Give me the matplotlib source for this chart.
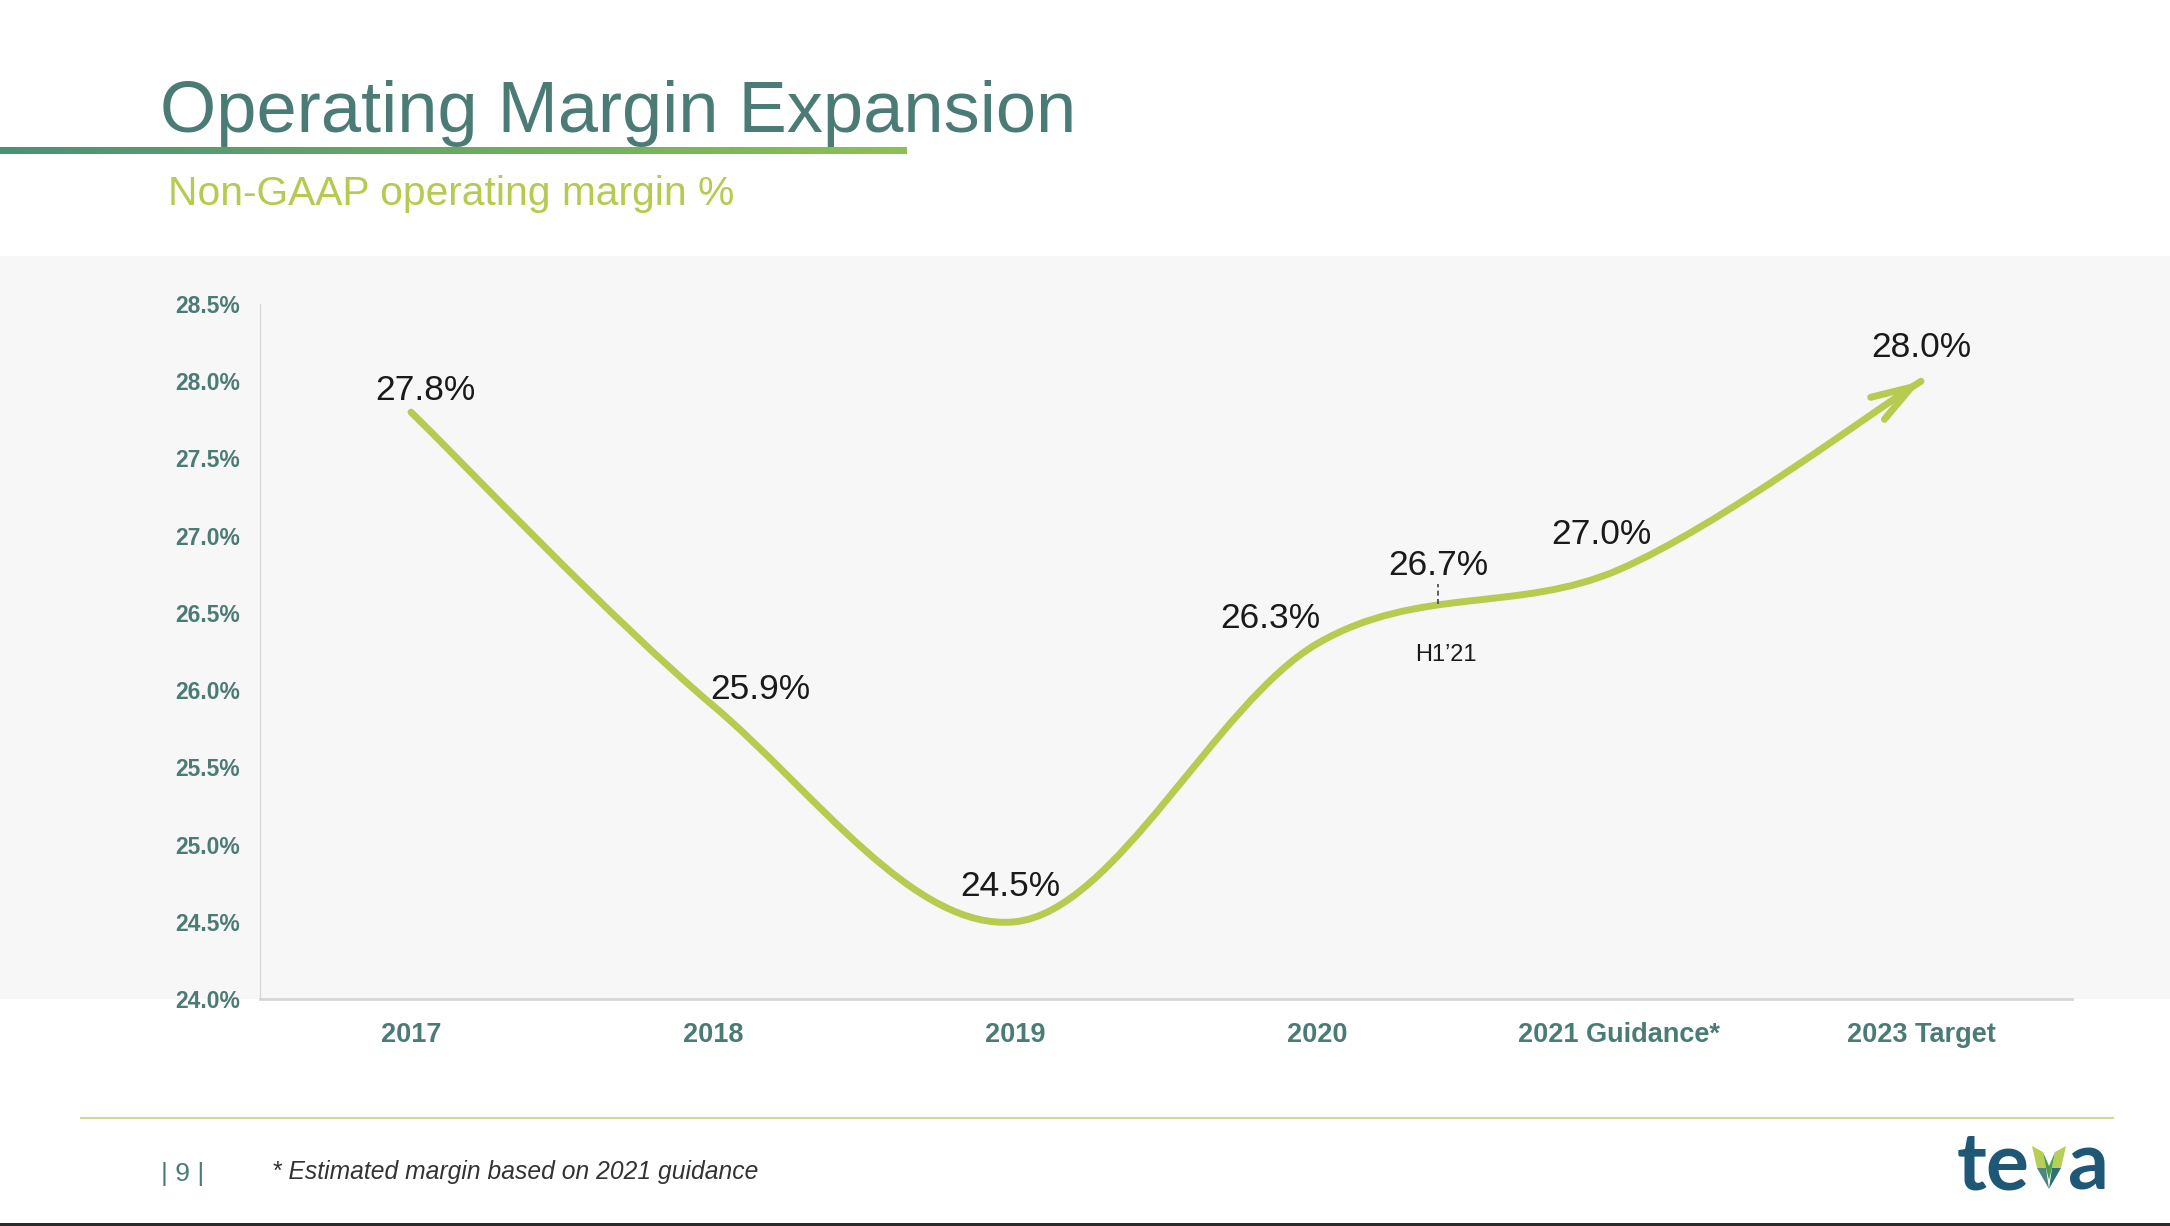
import numpy as np
import matplotlib
matplotlib.use("Agg")
import matplotlib.pyplot as plt
from matplotlib.path import Path
from matplotlib.patches import PathPatch, Rectangle, Polygon
from matplotlib.lines import Line2D
from matplotlib.colors import LinearSegmentedColormap

categories = ['2017', '2018', '2019', '2020', '2021 Guidance*', '2023 Target']
margin_labels = [27.8, 25.9, 24.5, 26.3, 27.0, 28.0]
# la curva dibujada pasa un poco por debajo de la etiqueta 27.0%
line_values = [27.8, 25.9, 24.5, 26.3, 26.78, 28.0]
y_ticks = [24.0, 24.5, 25.0, 25.5, 26.0, 26.5, 27.0, 27.5, 28.0, 28.5]

h1_x = 3.4
h1_label = 26.7
h1_curve = 26.56
h1_tick_top = 26.69

# posiciones de las etiquetas (pixeles respecto al punto)
label_offsets = [(14, 12), (47, 7), (-5, 26), (-47, 16), (-18, -8), (0, 24)]

W, H = 2170, 1226
teal = '#4b7b75'
green = '#b7cb50'

def fx(x):
    return x / W

def fy(y):
    return 1 - y / H

plt.rcParams['font.family'] = ['Liberation Sans', 'DejaVu Sans']

fig = plt.figure(figsize=(W / 100, H / 100), dpi=100, facecolor='white')

# panel gris
fig.patches.append(Rectangle((0, fy(999)), 1, (999 - 256) / H, transform=fig.transFigure,
                             facecolor='#f7f7f7', edgecolor='none', zorder=-5))

ax = fig.add_axes([fx(260), fy(999), (2072 - 260) / W, (999 - 304) / H])
ax.set_facecolor('none')
ax.set_xlim(-0.5, 5.5)
ax.set_ylim(24.0, 28.5)

ax.set_yticks(y_ticks)
ax.set_yticklabels([f'{v:.1f}%' for v in y_ticks])
ax.set_xticks(range(len(categories)))
ax.set_xticklabels(categories)
ax.tick_params(axis='y', length=0, pad=14.4, labelsize=16.5, labelcolor=teal)
ax.tick_params(axis='x', length=0, pad=16.5, labelsize=19.5, labelcolor=teal)
for lab in ax.get_xticklabels() + ax.get_yticklabels():
    lab.set_fontweight('bold')

for s in ['top', 'right']:
    ax.spines[s].set_visible(False)
ax.spines['left'].set_color('#dadada')
ax.spines['left'].set_linewidth(1.0)
ax.spines['bottom'].set_color('#d6d6d6')
ax.spines['bottom'].set_linewidth(2.0)

# linea suavizada (bezier tipo "smoothed line")
xs = np.arange(len(line_values))
pts = np.column_stack([xs, line_values]).astype(float)
verts = [pts[0]]
codes = [Path.MOVETO]
for i in range(len(pts) - 1):
    p0 = pts[max(i - 1, 0)]
    p1 = pts[i]
    p2 = pts[i + 1]
    p3 = pts[min(i + 2, len(pts) - 1)]
    verts += [p1 + (p2 - p0) / 6, p2 - (p3 - p1) / 6, p2]
    codes += [Path.CURVE4] * 3
curve = PathPatch(Path(verts, codes), facecolor='none', edgecolor=green, lw=5,
                  capstyle='round', joinstyle='round', zorder=3)
ax.add_patch(curve)

# punta de flecha
end = pts[-1]
before = end - (end - verts[-2]) * 0.3
ax.annotate('', xy=end, xytext=before,
            arrowprops=dict(arrowstyle='->,head_length=0.4,head_width=0.13', mutation_scale=72,
                            lw=5, color=green, shrinkA=0, shrinkB=0, capstyle='round',
                            joinstyle='round'), zorder=3)

# etiquetas de valores
for i, (v, off) in enumerate(zip(margin_labels, label_offsets)):
    ax.annotate(f'{v:.1f}%', xy=(i, v), xytext=off, textcoords='offset pixels',
                ha='center', va='baseline', fontsize=25.5, color='#1a1a1a', zorder=4)

# marcador H1'21
ax.plot([h1_x, h1_x], [h1_curve, h1_tick_top], color='#444444', lw=1.2,
        linestyle=(0, (3, 2)), zorder=4)
ax.annotate(f'{h1_label:.1f}%', xy=(h1_x, h1_label), xytext=(1, 7), textcoords='offset pixels',
            ha='center', va='baseline', fontsize=25.5, color='#1a1a1a', zorder=4)
ax.annotate('H1\u201921', xy=(h1_x, h1_label), xytext=(8, -79), textcoords='offset pixels',
            ha='center', va='baseline', fontsize=17, color='#1a1a1a', zorder=4)

# titulo y subtitulo
fig.text(fx(160), fy(132), 'Operating Margin Expansion', fontsize=52, color=teal, va='baseline')
fig.text(fx(168), fy(205), 'Non-GAAP operating margin %', fontsize=29.3, color='#b5ca4e', va='baseline')

# barra degradada bajo el titulo
gax = fig.add_axes([0, fy(154), 907 / W, 7 / H])
cmap = LinearSegmentedColormap.from_list('bar', ['#4a9276', '#8cc152'])
gax.imshow(np.linspace(0, 1, 256)[None, :], aspect='auto', cmap=cmap)
gax.set_axis_off()

# pie
fig.add_artist(Line2D([fx(81), fx(2113)], [fy(1118), fy(1118)], color='#cadd8f', lw=1.5))
fig.patches.append(Rectangle((0, 0), 1, 3 / H, transform=fig.transFigure,
                             facecolor='#2b2b2b', edgecolor='none'))
fig.text(fx(161), fy(1181), '| 9 |', fontsize=19, color=teal, va='baseline')
fig.text(fx(272), fy(1179), '* Estimated margin based on 2021 guidance', fontsize=17.7,
         style='italic', color='#333333', va='baseline')

# logo teva
fig.text(fx(2030), fy(1189), 'te', fontsize=58, color='#1f5876', fontweight='bold',
         family=['Lato', 'DejaVu Sans'], ha='right', va='baseline')
fig.text(fx(2068), fy(1189), 'a', fontsize=58, color='#1f5876', fontweight='bold',
         family=['Lato', 'DejaVu Sans'], ha='left', va='baseline')
leaves = [
    ([(2032, 1146), (2043, 1152), (2046, 1168), (2037, 1168)], '#b6cf56'),
    ([(2043, 1152), (2049, 1166), (2049, 1180), (2046, 1168)], '#4a9a47'),
    ([(2037, 1168), (2046, 1168), (2049, 1189)], '#4f8580'),
    ([(2066, 1146), (2055, 1152), (2052, 1168), (2061, 1168)], '#b6cf56'),
    ([(2055, 1152), (2049, 1166), (2049, 1180), (2052, 1168)], '#4aa54a'),
    ([(2061, 1168), (2052, 1168), (2049, 1189)], '#2f6f7a'),
]
for poly, col in leaves:
    fig.patches.append(Polygon([(fx(a), fy(b)) for a, b in poly], closed=True,
                               transform=fig.transFigure, facecolor=col, edgecolor='none'))

fig.savefig('out.png', dpi=100, facecolor='white')
